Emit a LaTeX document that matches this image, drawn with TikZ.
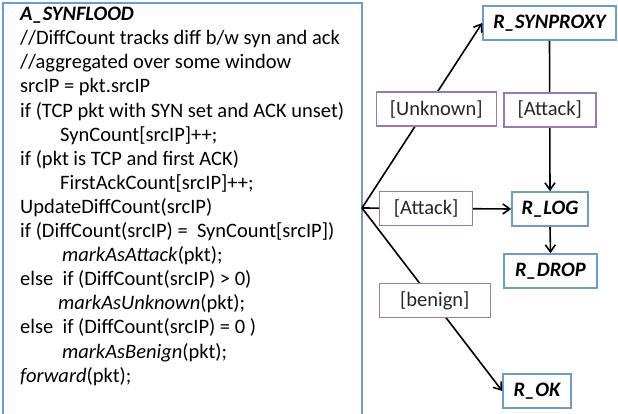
\documentclass[tikz,border=0pt]{standalone}
\usepackage{fontspec}
\setmainfont{Carlito}
\usetikzlibrary{arrows.meta}

\definecolor{ruleblue}{RGB}{106,155,211}
\definecolor{condpurple}{RGB}{150,120,190}

\tikzset{
  rulebox/.style={draw=ruleblue, line width=1.6pt, fill=white, minimum height=34pt,
    inner xsep=4pt, font=\fontsize{20.5}{24}\selectfont\bfseries\itshape},
  condbox/.style={draw=condpurple, line width=1.6pt, fill=white, minimum height=34pt,
    inner xsep=4pt, text=black!85, font=\fontsize{20.5}{24}\selectfont},
  flow/.style={line width=1.6pt, -{Straight Barb[length=7pt,width=10pt]}},
}

\begin{document}
\begin{tikzpicture}[x=1pt, y=-1pt]

    % --- frame of the picture ---
    \useasboundingbox (0,0) rectangle (618,414);

    % --- 1. Code block on the left ---
    % box open at the bottom
    \draw[ruleblue, line width=1.6pt] (3,416) -- (3,3) -- (362,3) -- (362,416);
    \node[anchor=north west, inner sep=0pt, align=left,
          font=\fontsize{20.5}{24.1}\selectfont] (code) at (20,7) {%
      \textbf{\textit{A\_SYNFLOOD}}\\
      //DiffCount tracks diff b/w syn and ack\\
      //aggregated over some window\\
      srcIP = pkt.srcIP\\
      if (TCP pkt with SYN set and ACK unset)\\
      \hspace*{40pt}SynCount[srcIP]++;\\
      if (pkt is TCP and first ACK)\\
      \hspace*{40pt}FirstAckCount[srcIP]++;\\
      UpdateDiffCount(srcIP)\\
      if (DiffCount(srcIP) =\ \ SynCount[srcIP])\\
      \hspace*{42pt}\textit{markAsAttack}(pkt);\\
      else\ \ if (DiffCount(srcIP) > 0)\\
      \hspace*{38pt}\textit{markAsUnknown}(pkt);\\
      else\ \ if (DiffCount(srcIP) = 0 )\\
      \hspace*{42pt}\textit{markAsBenign}(pkt);\\
      \textit{forward}(pkt);};

    % --- 2. Rule boxes on the right ---
    \coordinate (fork) at (362,208);
    \node[rulebox, minimum width=133pt] (synproxy) at (549.5,23)  {R\_SYNPROXY};
    \node[rulebox, minimum width=76pt]  (log)      at (550,209)   {R\_LOG};
    \node[rulebox, minimum width=93pt]  (drop)     at (550.5,271) {R\_DROP};
    \node[rulebox, minimum width=68pt]  (ok)       at (537,391)   {R\_OK};

    % --- 3. Transitions with their conditions ---
    \draw[flow] (fork) -- node[condbox, pos=0.535, xshift=10pt, minimum width=120pt] (unknown) {[Unknown]} (synproxy.west);
    \draw[flow] (fork) -- node[condbox, pos=0.43, minimum width=93pt] (attacklow) {[Attack]} (log.west);
    \draw[flow] (fork) -- node[condbox, pos=0.505, xshift=2pt, minimum width=111pt] (benign) {[benign]} (ok.west);
    \draw[flow] (synproxy.south) -- node[condbox, pos=0.46, minimum width=92pt] (attackup) {[Attack]} (log.north);
    \draw[flow] (log.south) -- (drop.north);

\end{tikzpicture}
\end{document}
